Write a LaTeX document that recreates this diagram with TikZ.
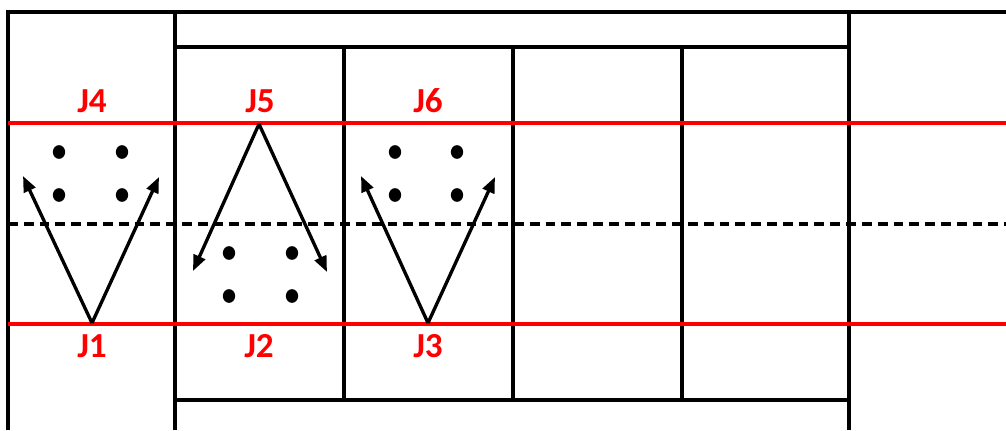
\documentclass[tikz,border=0pt]{standalone}
\usepackage{fontspec}
\setmainfont{Carlito}
\usepackage{xcolor}
\usetikzlibrary{arrows.meta,positioning,shapes.geometric}
\definecolor{jred}{RGB}{255,0,0}
\tikzset{
  gridline/.style={line width=1.9pt, draw=black},
  jline/.style={line width=2.3pt, draw=jred},
  midline/.style={line width=1.9pt, draw=black, dash pattern=on 5.6pt off 3.4pt},
  jlabel/.style={text=jred, font=\fontsize{20}{23}\selectfont\bfseries, inner sep=0pt, anchor=base},
  jdot/.style={ellipse, fill=black, minimum width=7pt, minimum height=7.8pt, inner sep=0pt},
  jarrow/.style={-{Triangle[length=9pt,width=7pt]}, line width=1.9pt}
}

\begin{document}
\begin{tikzpicture}[x=0.02cm, y=-0.02cm]
\useasboundingbox (0,0) rectangle (1006,430);

% ---- frame and cells ----
\draw[gridline] (8,430) -- (8,12) -- (1006,12);
\draw[gridline] (175,12) -- (175,430);
\draw[gridline] (849,12) -- (849,430);
\draw[gridline] (175,47) -- (849,47);
\draw[gridline] (175,400) -- (849,400);
\foreach \x in {344,513,682}
  \draw[gridline] (\x,47) -- (\x,400);

% ---- joint lines ----
\draw[midline] (8,224) -- (1006,224);
\draw[jline] (8,123) -- (1006,123);
\draw[jline] (8,324) -- (1006,324);

% ---- labels ----
\node[jlabel] (J4) at (92,112) {J4};
\node[jlabel] (J5) at (260,112) {J5};
\node[jlabel] (J6) at (428,112) {J6};
\node[jlabel] (J1) at (92,357) {J1};
\node[jlabel] (J2) at (259,357) {J2};
\node[jlabel] (J3) at (428,357) {J3};

% ---- dots ----
\foreach \name/\x/\y in {a1/59/152, a2/122/152, a3/59/195, a4/122/195,
                         b1/229/253, b2/292/253, b3/229/296, b4/292/296,
                         c1/395/152, c2/457/152, c3/395/195, c4/457/195}
  \node[jdot] (dot\name) at (\x,\y) {};

% ---- arrows ----
\coordinate (baseA) at (92,323);
\coordinate (baseB) at (259,124);
\coordinate (baseC) at (428,323);
\coordinate (tipA1) at (23,176);
\coordinate (tipA2) at (159,177);
\coordinate (tipB1) at (193,271);
\coordinate (tipB2) at (327,272);
\coordinate (tipC1) at (361,176);
\coordinate (tipC2) at (495,177);

\draw[jarrow] (baseA) -- (tipA1);
\draw[jarrow] (baseA) -- (tipA2);
\draw[jarrow] (baseB) -- (tipB1);
\draw[jarrow] (baseB) -- (tipB2);
\draw[jarrow] (baseC) -- (tipC1);
\draw[jarrow] (baseC) -- (tipC2);

\end{tikzpicture}
\end{document}
